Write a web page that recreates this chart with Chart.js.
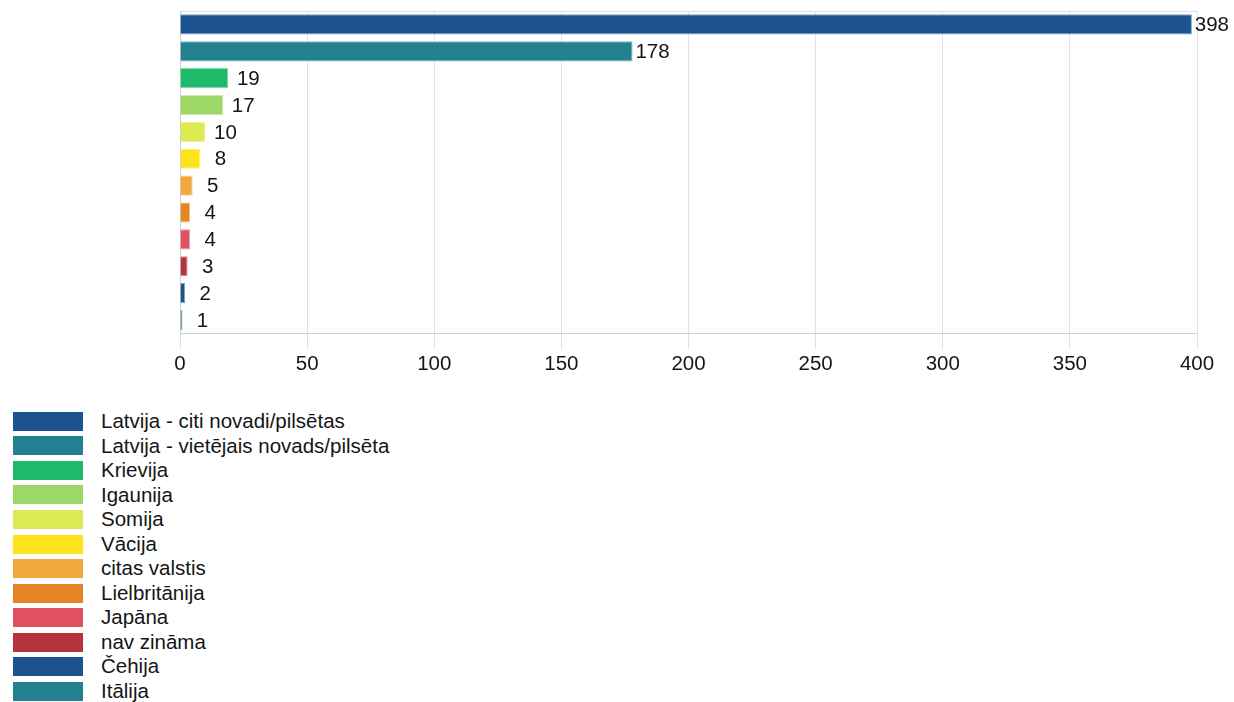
<!DOCTYPE html>
<html>
<head>
<meta charset="utf-8">
<script src="https://cdn.jsdelivr.net/npm/chart.js@4.4.1/dist/chart.umd.min.js"></script>
<style>
  html, body { margin: 0; padding: 0; background: #fff; }
  body { width: 1234px; height: 702px; overflow: hidden; position: relative; font-family: "Liberation Sans", Arial, sans-serif; }
  #wrap { position: absolute; left: 0; top: 0; width: 1234px; height: 400px; }
  #legend { position: absolute; left: 13px; top: 409px; }
  .row { position: relative; height: 24.55px; display: flex; align-items: center; }
  .box { width: 68px; height: 17px; border: 1px solid; flex: none; }
  .txt { margin-left: 18px; font-size: 20.5px; color: #151515; white-space: nowrap; line-height: 1; }
</style>
</head>
<body>
<div id="wrap"><canvas id="c"></canvas></div>
<div id="legend"></div>
<script>
const categories = [
  "Latvija - citi novadi/pilsētas",
  "Latvija - vietējais novads/pilsēta",
  "Krievija",
  "Igaunija",
  "Somija",
  "Vācija",
  "citas valstis",
  "Lielbritānija",
  "Japāna",
  "nav zināma",
  "Čehija",
  "Itālija"
];
const values = [398, 178, 19, 17, 10, 8, 5, 4, 4, 3, 2, 1];
const colors = [
  "rgb(28,82,143)",
  "rgb(34,128,143)",
  "rgb(30,185,106)",
  "rgb(157,216,102)",
  "rgb(221,233,80)",
  "rgb(253,226,28)",
  "rgb(241,169,63)",
  "rgb(230,132,36)",
  "rgb(224,82,96)",
  "rgb(181,50,63)",
  "rgb(28,82,143)",
  "rgb(34,128,143)"
];
const xTicks = [0, 50, 100, 150, 200, 250, 300, 350, 400];

function soft(c, a) { return c.replace("rgb(", "rgba(").replace(")", "," + a + ")"); }

const FONT = "'Liberation Sans', Arial, sans-serif";

const valueLabels = {
  id: "valueLabels",
  afterDatasetsDraw(chart) {
    const ctx = chart.ctx;
    ctx.save();
    ctx.font = "20.5px " + FONT;
    ctx.fillStyle = "#151515";
    ctx.textAlign = "center";
    ctx.textBaseline = "middle";
    chart.data.datasets.forEach((ds, i) => {
      const meta = chart.getDatasetMeta(i);
      meta.data.forEach((bar, j) => {
        ctx.fillText(String(ds.data[j]), bar.x + 20, bar.y + 1);
      });
    });
    ctx.restore();
  }
};

const chart = new Chart(document.getElementById("c"), {
  type: "bar",
  data: {
    labels: [""],
    datasets: categories.map((name, i) => ({
      label: name,
      data: [values[i]],
      backgroundColor: colors[i],
      borderColor: soft(colors[i], 0.55),
      borderWidth: 1,
      barPercentage: 0.75,
      categoryPercentage: 1.0
    }))
  },
  options: {
    indexAxis: "y",
    responsive: true,
    maintainAspectRatio: false,
    animation: false,
    layout: { padding: { left: 180, right: 37, top: 11, bottom: 20 } },
    plugins: {
      legend: { display: false },
      tooltip: { enabled: false }
    },
    scales: {
      x: {
        min: 0,
        max: 400,
        afterBuildTicks(scale) { scale.ticks = xTicks.map(v => ({ value: v })); },
        grid: { color: "#e2e2e2", tickLength: 16, drawTicks: true },
        border: { color: "#d0d0d0" },
        ticks: { color: "#151515", font: { family: FONT, size: 20.5 }, padding: 3 }
      },
      y: {
        afterFit(scale) { scale.width = 0; },
        grid: { color: "#dcdcdc", drawTicks: false },
        border: { color: "#d0d0d0" },
        ticks: { display: false }
      }
    }
  },
  plugins: [valueLabels]
});

const legend = document.getElementById("legend");
chart.data.datasets.forEach(ds => {
  const row = document.createElement("div");
  row.className = "row";
  const box = document.createElement("div");
  box.className = "box";
  box.style.background = ds.backgroundColor;
  box.style.borderColor = ds.borderColor;
  const txt = document.createElement("span");
  txt.className = "txt";
  txt.textContent = ds.label;
  row.appendChild(box);
  row.appendChild(txt);
  legend.appendChild(row);
});
</script>
</body>
</html>
